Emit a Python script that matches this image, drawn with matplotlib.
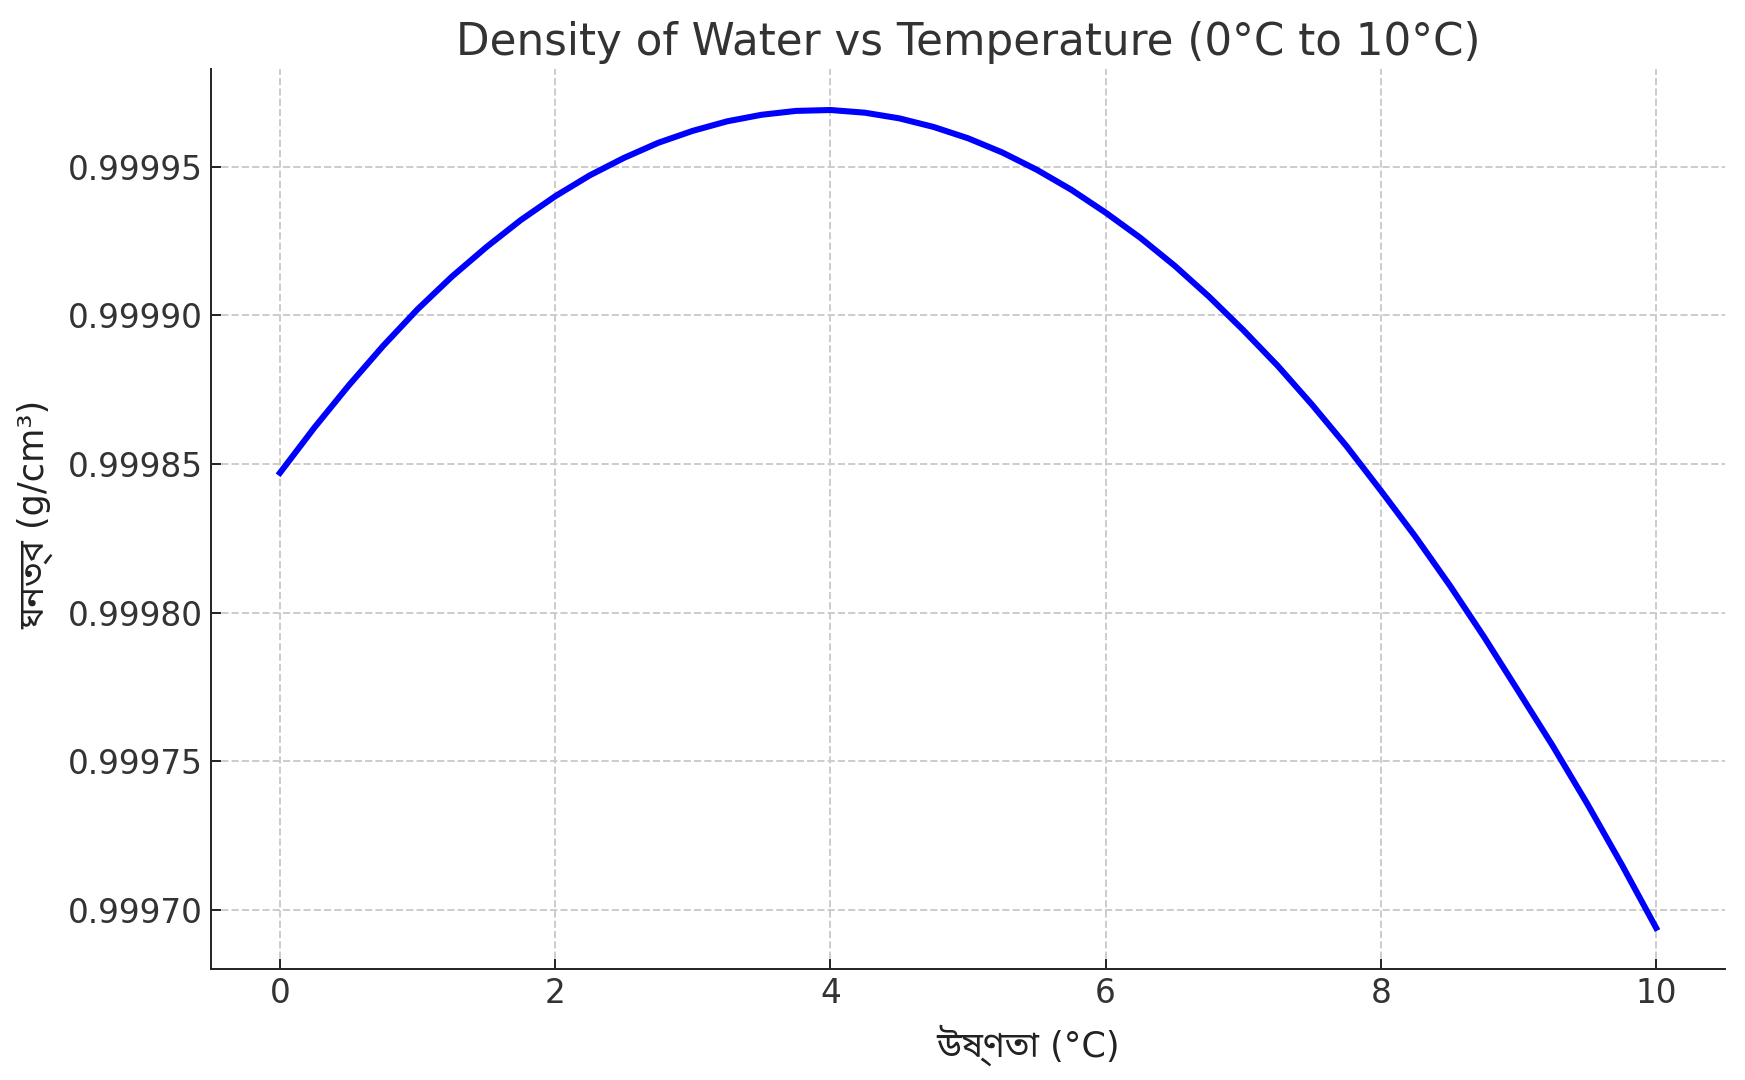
import matplotlib
matplotlib.use("Agg")
import matplotlib.pyplot as plt

# temperature (°C) and density (g/cm³)
temperature = [0, 0.25, 0.5, 0.75, 1, 1.25, 1.5, 1.75, 2, 2.25, 2.5, 2.75,
               3, 3.25, 3.5, 3.75, 4, 4.25, 4.5, 4.75, 5, 5.25, 5.5, 5.75,
               6, 6.25, 6.5, 6.75, 7, 7.25, 7.5, 7.75, 8, 8.25, 8.5, 8.75,
               9, 9.25, 9.5, 9.75, 10]
density = [0.9998470, 0.9998622, 0.9998764, 0.9998897, 0.9999020, 0.9999130,
           0.9999229, 0.9999320, 0.9999400, 0.9999470, 0.9999529, 0.9999580,
           0.9999620, 0.9999652, 0.9999674, 0.9999687, 0.9999690, 0.9999681,
           0.9999662, 0.9999633, 0.9999595, 0.9999547, 0.9999489, 0.9999422,
           0.9999345, 0.9999261, 0.9999167, 0.9999063, 0.9998950, 0.9998830,
           0.9998699, 0.9998560, 0.9998410, 0.9998256, 0.9998092, 0.9997918,
           0.9997735, 0.9997551, 0.9997357, 0.9997153, 0.9996940]

title = "Density of Water vs Temperature (0°C to 10°C)"
xlabel = "উষ্ণতা (°C)"
ylabel = "ঘনত্ব (g/cm³)"
xticks = [0, 2, 4, 6, 8, 10]
yticks = [0.99970, 0.99975, 0.99980, 0.99985, 0.99990, 0.99995]

plt.rcParams['font.family'] = ['DejaVu Sans', 'Noto Sans Bengali', 'Lohit Bengali', 'FreeSerif']

fig = plt.figure(figsize=(10, 1080 / 174.5), dpi=174.5)
ax = fig.add_axes([0.121, 0.103, 0.8675, 0.833])

ax.plot(temperature, density, color='blue', linewidth=2.5)

ax.set_title(title, fontsize=18, color='#333333')
ax.set_xlabel(xlabel, fontsize=14.5, color='#222222')
ax.set_ylabel(ylabel, fontsize=14.5, color='#222222')
ax.xaxis.set_label_coords(0.54, -0.062)
ax.yaxis.set_label_coords(-0.104, 0.505)

ax.set_xticks(xticks)
ax.set_yticks(yticks)
ax.yaxis.set_major_formatter(matplotlib.ticker.FormatStrFormatter('%.5f'))
ax.tick_params(direction='in', length=4, labelsize=13.5, colors='#222222',
               labelcolor='#333333')

ax.grid(True, linestyle='--', color='#cccccc', linewidth=0.8)
ax.spines['top'].set_visible(False)
ax.spines['right'].set_visible(False)
ax.spines['left'].set_color('#222222')
ax.spines['bottom'].set_color('#222222')

fig.savefig("out.png", dpi=174.5)
